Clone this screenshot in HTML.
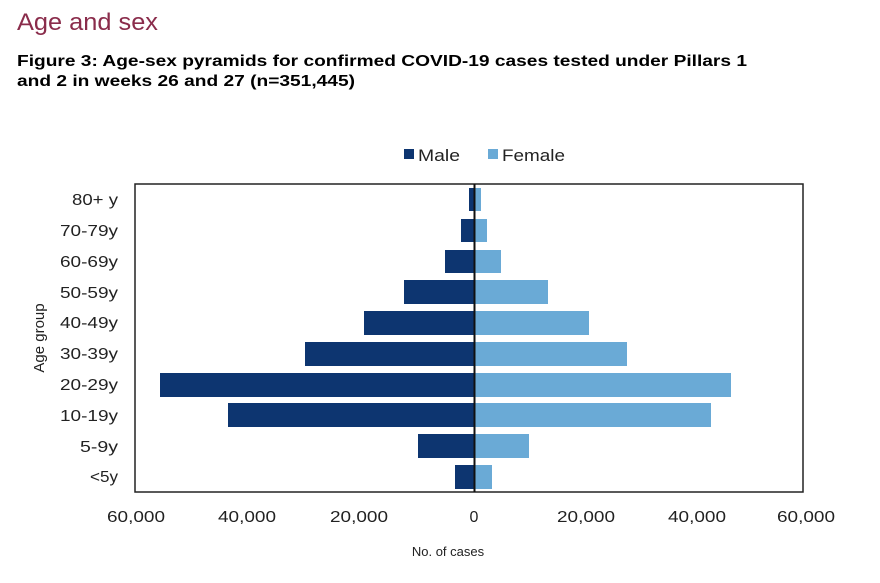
<!DOCTYPE html>
<html><head><style>
body{margin:0;width:880px;height:583px;background:#fff;font-family:"Liberation Sans",sans-serif;position:relative;overflow:hidden}
</style></head><body>
<svg width="880" height="583" style="position:absolute;left:0;top:0" font-family="Liberation Sans, sans-serif">
<text x="17" y="30" font-size="24" fill="#8a2c4b" textLength="141" lengthAdjust="spacingAndGlyphs">Age and sex</text>
<text x="17" y="66" font-size="16" font-weight="bold" fill="#000" textLength="730" lengthAdjust="spacingAndGlyphs">Figure 3: Age-sex pyramids for confirmed COVID-19 cases tested under Pillars 1</text>
<text x="17" y="86" font-size="16" font-weight="bold" fill="#000" textLength="338" lengthAdjust="spacingAndGlyphs">and 2 in weeks 26 and 27 (n=351,445)</text>
<rect x="404" y="149" width="10" height="10" fill="#0d3570"/>
<text x="418" y="161" font-size="17" fill="#222" textLength="42" lengthAdjust="spacingAndGlyphs">Male</text>
<rect x="488" y="149" width="10" height="10" fill="#6aaad6"/>
<text x="502" y="161" font-size="17" fill="#222" textLength="63" lengthAdjust="spacingAndGlyphs">Female</text>
<rect x="135" y="184" width="668" height="308" fill="none" stroke="#222" stroke-width="1.5"/>
<g fill="#0d3570">
<rect x="469" y="188" width="5" height="23"/>
<rect x="461" y="219" width="13" height="23"/>
<rect x="445" y="250" width="29" height="23"/>
<rect x="404" y="280" width="70" height="24"/>
<rect x="364" y="311" width="110" height="24"/>
<rect x="305" y="342" width="169" height="24"/>
<rect x="160" y="373" width="314" height="24"/>
<rect x="228" y="403" width="246" height="24"/>
<rect x="418" y="434" width="56" height="24"/>
<rect x="455" y="465" width="19" height="24"/>
</g>
<g fill="#6aaad6">
<rect x="475" y="188" width="6" height="23"/>
<rect x="475" y="219" width="12" height="23"/>
<rect x="475" y="250" width="26" height="23"/>
<rect x="475" y="280" width="73" height="24"/>
<rect x="475" y="311" width="114" height="24"/>
<rect x="475" y="342" width="152" height="24"/>
<rect x="475" y="373" width="256" height="24"/>
<rect x="475" y="403" width="236" height="24"/>
<rect x="475" y="434" width="54" height="24"/>
<rect x="475" y="465" width="17" height="24"/>
</g>
<line x1="474.5" y1="184" x2="474.5" y2="492" stroke="#111" stroke-width="2"/>
<g font-size="16" fill="#222" text-anchor="end" lengthAdjust="spacingAndGlyphs">
<text x="118" y="205" textLength="46" lengthAdjust="spacingAndGlyphs">80+ y</text>
<text x="118" y="236" textLength="58" lengthAdjust="spacingAndGlyphs">70-79y</text>
<text x="118" y="267" textLength="58" lengthAdjust="spacingAndGlyphs">60-69y</text>
<text x="118" y="298" textLength="58" lengthAdjust="spacingAndGlyphs">50-59y</text>
<text x="118" y="328" textLength="58" lengthAdjust="spacingAndGlyphs">40-49y</text>
<text x="118" y="359" textLength="58" lengthAdjust="spacingAndGlyphs">30-39y</text>
<text x="118" y="390" textLength="58" lengthAdjust="spacingAndGlyphs">20-29y</text>
<text x="118" y="421" textLength="58" lengthAdjust="spacingAndGlyphs">10-19y</text>
<text x="118" y="452" textLength="38" lengthAdjust="spacingAndGlyphs">5-9y</text>
<text x="118" y="482" textLength="28" lengthAdjust="spacingAndGlyphs">&lt;5y</text>
</g>
<g font-size="16" fill="#222" text-anchor="middle">
<text x="136" y="522" textLength="58" lengthAdjust="spacingAndGlyphs">60,000</text>
<text x="247" y="522" textLength="58" lengthAdjust="spacingAndGlyphs">40,000</text>
<text x="359" y="522" textLength="58" lengthAdjust="spacingAndGlyphs">20,000</text>
<text x="474" y="522">0</text>
<text x="586" y="522" textLength="58" lengthAdjust="spacingAndGlyphs">20,000</text>
<text x="697" y="522" textLength="58" lengthAdjust="spacingAndGlyphs">40,000</text>
<text x="806" y="522" textLength="58" lengthAdjust="spacingAndGlyphs">60,000</text>
</g>
<text x="448" y="556" font-size="13" fill="#222" text-anchor="middle">No. of cases</text>
<text transform="translate(44,338) rotate(-90)" font-size="15" fill="#222" text-anchor="middle">Age group</text>
</svg>
</body></html>
